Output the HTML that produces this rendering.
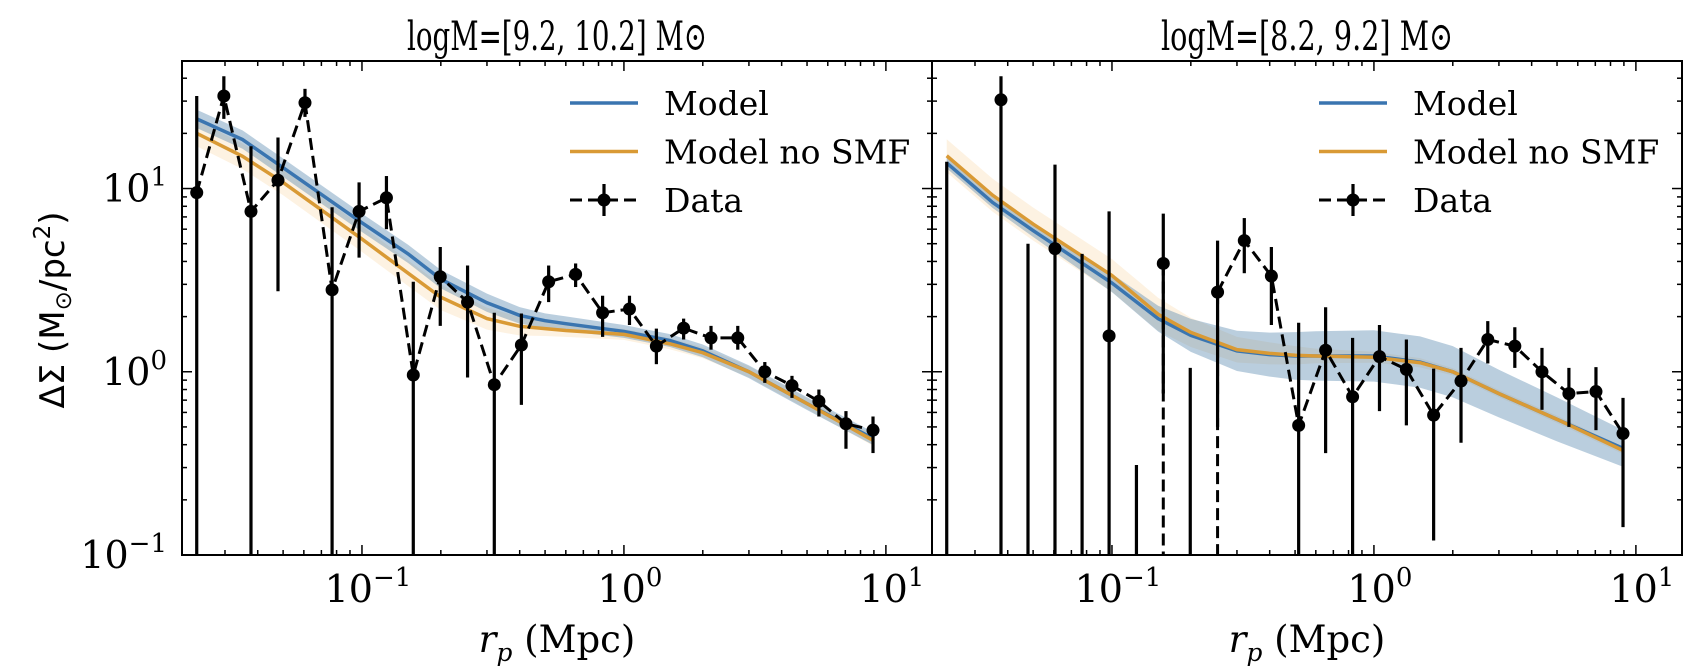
<!DOCTYPE html>
<html><head><meta charset="utf-8"><style>
body{margin:0;background:#fff;}
svg{display:block;}
text{font-family:"DejaVu Serif","Liberation Serif",serif;fill:#000;}
</style></head><body>
<svg id="chart" width="1700" height="666" viewBox="0 0 1700 666" xmlns="http://www.w3.org/2000/svg"></svg>
<script>
// ---- data ----
const rp = [0.0234,0.0297,0.0377,0.0478,0.0606,0.0769,0.0975,0.124,0.157,0.199,0.253,0.320,0.406,0.516,0.654,0.829,1.05,1.33,1.69,2.15,2.72,3.45,4.38,5.55,7.04,8.93];
const dsL   = [9.5,32,7.5,11.1,29.4,2.8,7.5,8.9,0.96,3.3,2.4,0.85,1.4,3.1,3.4,2.1,2.2,1.38,1.73,1.53,1.53,1.0,0.84,0.69,0.52,0.48];
const dsLhi = [32,41,17,19,35,7.9,10.8,11.7,3.1,4.8,3.8,2.1,2.08,3.8,3.9,2.6,2.6,1.72,1.95,1.78,1.78,1.13,0.95,0.8,0.61,0.57];
const dsLlo = [0,24,0,2.75,24.6,0,4.2,6.0,0,1.78,0.93,0,0.66,2.4,2.9,1.55,1.8,1.1,1.5,1.32,1.32,0.87,0.72,0.57,0.38,0.36];
const dsR   = [null,null,30.5,null,4.7,null,1.57,null,3.9,null,2.72,5.2,3.33,0.51,1.31,0.73,1.21,1.03,0.58,0.89,1.5,1.38,1.0,0.76,0.78,0.46];
const dsRhi = [14,null,41,5.0,13.5,4.4,7.5,0.31,7.3,1.05,5.2,6.9,4.8,1.85,2.25,1.53,1.8,1.5,1.04,1.35,1.89,1.75,1.35,1.05,1.06,0.72];
const dsRlo = [0,null,0,0,0,0,0,0,0,0,0,3.45,1.8,0,0.36,0,0.61,0.51,0.12,0.41,1.11,1.05,0.62,0.5,0.48,0.142];
const mx = [0.0234,0.035,0.05,0.1,0.15,0.2,0.3,0.4,0.5,0.6,1.0,1.5,2,3,5,9];
const blueL   = [24,18.5,13.0,6.5,4.4,3.2,2.38,2.03,1.9,1.83,1.66,1.48,1.3,1.0,0.67,0.43];
const orangeL = [20,15.0,10.8,5.3,3.45,2.55,1.95,1.77,1.72,1.68,1.6,1.42,1.27,1.0,0.67,0.42];
const blueR   = [13.8,8.4,5.9,3.05,1.95,1.58,1.30,1.24,1.22,1.22,1.22,1.13,1.0,0.76,0.55,0.38];
const orangeR = [15.1,9.2,6.4,3.35,2.06,1.64,1.32,1.26,1.23,1.22,1.2,1.12,1.0,0.76,0.55,0.37];
const bandBL = [0.05,0.05,0.05,0.05,0.05,0.05,0.05,0.045,0.04,0.04,0.035,0.035,0.035,0.035,0.035,0.035];
const bandOL = [0.07,0.07,0.07,0.07,0.07,0.07,0.06,0.05,0.04,0.035,0.03,0.03,0.03,0.03,0.03,0.03];
const bandBR = [0.03,0.03,0.035,0.05,0.07,0.09,0.11,0.12,0.13,0.135,0.14,0.14,0.14,0.13,0.12,0.1];
const bandOR = [0.09,0.09,0.09,0.09,0.09,0.08,0.07,0.06,0.05,0.04,0.03,0.025,0.02,0.02,0.02,0.02];
const xTicks = [0.1,1,10];
const xTickExp = ["\u22121","0","1"];
const yTicks = [0.1,1,10];
const yTickExp = ["\u22121","0","1"];

const NS="http://www.w3.org/2000/svg";
const svg=document.getElementById('chart');
function mk(tag,attrs,parent){const e=document.createElementNS(NS,tag);for(const k in attrs)e.setAttribute(k,attrs[k]);(parent||svg).appendChild(e);return e;}

const Y0=61,Y1=555, YLMIN=-1, YLMAX=1.696;
function ys(v){return Y1-(Math.log10(v)-YLMIN)/(YLMAX-YLMIN)*(Y1-Y0);}
const XLMIN=-1.687, XLMAX=1.176;

function panel(px0,px1,title,titleLen,data,hi,lo,blue,orange,bb,bo,showY,idx){
  const g=mk('g',{});
  
  
  const xs=v=>px0+(Math.log10(v)-XLMIN)/(XLMAX-XLMIN)*(px1-px0);
  const clip=mk('clipPath',{id:'clip'+idx},g);
  mk('rect',{x:px0,y:Y0,width:px1-px0,height:Y1-Y0},clip);
  const pg=mk('g',{'clip-path':'url(#clip'+idx+')'},g);
  function band(arr,w,fill,op,name){
    let d='';
    mx.forEach((x,i)=>{d+=(i?'L':'M')+xs(x)+','+ys(arr[i]*Math.pow(10,w[i]));});
    for(let i=mx.length-1;i>=0;i--)d+='L'+xs(mx[i])+','+ys(arr[i]/Math.pow(10,w[i]));
    const p=mk('path',{d:d+'Z',fill:fill,'fill-opacity':op},pg);
    
    
  }
  function line(arr,col,name){
    let d='';mx.forEach((x,i)=>{d+=(i?'L':'M')+xs(x)+','+ys(arr[i]);});
    const p=mk('path',{d:d,fill:'none',stroke:col,'stroke-width':3.5},pg);
    
    
  }
  band(orange,bo,'#f5c070',0.2,'model-no-smf-band');
  band(blue,bb,'#4a7fa8',0.38,'model-band');
  line(blue,'#3a75b0','model-line');
  line(orange,'#d99a35','model-no-smf-line');
  let d='';let pen=false;
  rp.forEach((x,i)=>{const v=data[i];if(v==null){pen=false;return;}d+=(pen?'L':'M')+xs(x)+','+ys(v);pen=true;});
  const dl=mk('path',{d:d,fill:'none',stroke:'#000','stroke-width':3,'stroke-dasharray':'12,6'},pg);
  
  
  if(idx===1){
    [8,10].forEach(i=>{
      const dd=mk('line',{x1:xs(rp[i]),x2:xs(rp[i]),y1:ys(data[i]),y2:Y1,stroke:'#000','stroke-width':3,'stroke-dasharray':'12,6'},pg);
      
      
    });
  }
  rp.forEach((x,i)=>{
    if(hi[i]==null)return;
    let yb;
    if(lo[i]===0)yb=Y1+5;else yb=ys(lo[i]);
    if(idx===1&&i===8)yb=ys(data[i])+130;
    if(idx===1&&i===10)yb=ys(0.5);
    const e=mk('line',{x1:xs(x),x2:xs(x),y1:ys(hi[i]),y2:yb,stroke:'#000','stroke-width':3.2},pg);
    
    
    if(data[i]!=null){
      const c=mk('circle',{cx:xs(x),cy:ys(data[i]),r:6.5,fill:'#000'},pg);
      
      
    }
  });
  const fr=mk('rect',{x:px0,y:Y0,width:px1-px0,height:Y1-Y0,fill:'none',stroke:'#000','stroke-width':2},g);
  
  
  for(let e=-2;e<=1;e++)for(let m=1;m<10;m++){
    const v=m*Math.pow(10,e);const lv=Math.log10(v);
    if(lv<XLMIN||lv>XLMAX)continue;
    const L=m===1?10:5;const X=xs(v);
    mk('line',{x1:X,x2:X,y1:Y1,y2:Y1-L,stroke:'#000','stroke-width':1.5},g);
    mk('line',{x1:X,x2:X,y1:Y0,y2:Y0+L,stroke:'#000','stroke-width':1.5},g);
  }
  for(let e=-1;e<=1;e++)for(let m=1;m<10;m++){
    const v=m*Math.pow(10,e);const lv=Math.log10(v);
    if(lv<YLMIN-0.001||lv>YLMAX)continue;
    const L=m===1?10:5;const Y=ys(v);
    mk('line',{x1:px0,x2:px0+L,y1:Y,y2:Y,stroke:'#000','stroke-width':1.5},g);
    mk('line',{x1:px1,x2:px1-L,y1:Y,y2:Y,stroke:'#000','stroke-width':1.5},g);
  }
  xTicks.forEach((v,i)=>{
    const t=mk('text',{x:xs(v)+6,y:602,'text-anchor':'middle','font-size':38},g);
    
    
    t.textContent='10';
    const s=mk('tspan',{'font-size':26,dy:-16},t);s.textContent=xTickExp[i];
  });
  if(showY){
    yTicks.forEach((v,i)=>{
      const t=mk('text',{x:167,y:ys(v)+13,'text-anchor':'end','font-size':38},g);
      
      
      t.textContent='10';
      const s=mk('tspan',{'font-size':26,dy:-16},t);s.textContent=yTickExp[i];
    });
  }
  const tt=mk('text',{x:(px0+px1)/2,y:50,'text-anchor':'middle','font-size':40,textLength:titleLen,lengthAdjust:'spacingAndGlyphs'},g);
  
  
  tt.textContent=title;
  const xl=mk('text',{x:(px0+px1)/2,y:652,'text-anchor':'middle','font-size':37},g);
  
  
  const r=mk('tspan',{'font-style':'italic'},xl);r.textContent='r';
  const p=mk('tspan',{'font-style':'italic','font-size':25,dy:9},xl);p.textContent='p';
  const rest=mk('tspan',{dy:-9},xl);rest.textContent=' (Mpc)';
  const lx=idx===0?570:1319, tx=idx===0?664:1413;
  const items=[['Model','#3a75b0'],['Model no SMF','#d99a35'],['Data','#000']];
  items.forEach((it,k)=>{
    const y=103+k*48.5;
    const lg=mk('g',{},g);
    
    
    if(k<2){mk('line',{x1:lx,x2:lx+68,y1:y,y2:y,stroke:it[1],'stroke-width':3.5},lg);}
    else{
      mk('line',{x1:lx,x2:lx+68,y1:y,y2:y,stroke:'#000','stroke-width':3,'stroke-dasharray':'12,6'},lg);
      mk('line',{x1:lx+34,x2:lx+34,y1:y-16,y2:y+16,stroke:'#000','stroke-width':3.2},lg);
      mk('circle',{cx:lx+34,cy:y,r:6.5,fill:'#000'},lg);
    }
    const t=mk('text',{x:tx,y:y+12,'font-size':33},lg);t.textContent=it[0];
  });
}
panel(182,932,'logM=[9.2, 10.2] M\u2299',300,dsL,dsLhi,dsLlo,blueL,orangeL,bandBL,bandOL,true,0);
panel(932,1682,'logM=[8.2, 9.2] M\u2299',292,dsR,dsRhi,dsRlo,blueR,orangeR,bandBR,bandOR,false,1);
const yl=mk('text',{x:0,y:0,'text-anchor':'middle','font-size':34,transform:'translate(64,310) rotate(-90)',style:'font-family:"DejaVu Sans","Liberation Sans",sans-serif'});


yl.textContent='\u0394\u03a3 (M';
const sun=mk('tspan',{'font-size':23,dy:7},yl);sun.textContent='\u2299';
const r2=mk('tspan',{dy:-7},yl);r2.textContent='/pc';
const sq=mk('tspan',{'font-size':23,dy:-14},yl);sq.textContent='2';
const r3=mk('tspan',{dy:14},yl);r3.textContent=')';
</script>
</body></html>
